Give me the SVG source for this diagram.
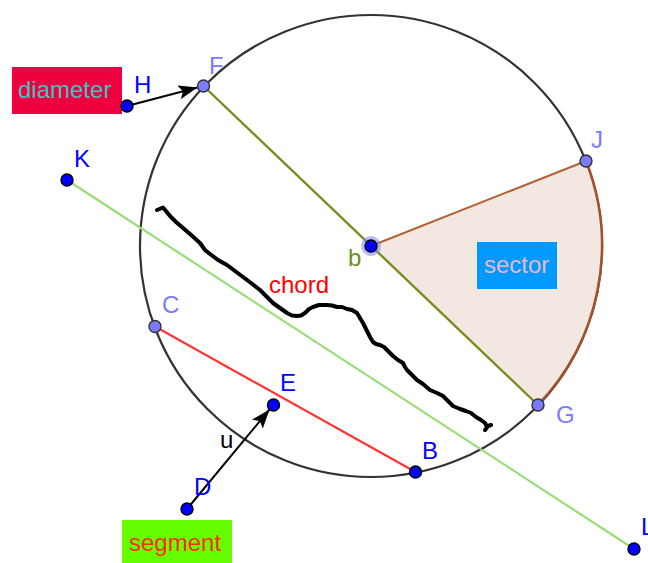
<svg xmlns="http://www.w3.org/2000/svg" width="648" height="563" viewBox="0 0 648 563">
<style>
text{font-family:"Liberation Sans",Arial,sans-serif;font-size:24px}
.lbl{fill:#0000ff}
.lbl2{fill:#7b7bff}
.pt{fill:#0000ff;stroke:#000;stroke-width:1.4}
.pt2{fill:#7b7bff;stroke:#333;stroke-width:1.4}
.vec{stroke:#000;stroke-width:2;fill:none;marker-end:url(#arr)}
</style>
<defs>
<marker id="arr" markerUnits="userSpaceOnUse" markerWidth="20" markerHeight="14" refX="19" refY="7" orient="auto">
<path d="M0,0 L19,7 L0,14 L4,7 Z" fill="#000"/>
</marker>
</defs>
<rect width="648" height="563" fill="#fff"/>
<g id="circle"><circle cx="371" cy="246" r="231" fill="none" stroke="#333" stroke-width="2.2"/></g>
<g id="sector-shape"><path d="M371,246 L586,161 A231,231 0 0,1 538,405 Z" fill="#f3e7e2" stroke="none"/>
<path d="M371,246 L586,161" stroke="#b45f30" stroke-width="2" fill="none"/>
<path d="M586,161 A231,231 0 0,1 538,405" stroke="#a0522d" stroke-width="2.6" fill="none"/></g>
<g id="connectors">
<line x1="203.5" y1="86" x2="538" y2="405" stroke="#7a8c1e" stroke-width="2.4"/>
<line x1="67" y1="180" x2="634" y2="549" stroke="#99dd77" stroke-width="2.2"/>
<line x1="155" y1="326.5" x2="415.5" y2="472" stroke="#ff3333" stroke-width="2.2"/>
<line class="vec" x1="127" y1="106" x2="197.5" y2="87.5"/>
<line class="vec" x1="187" y1="509" x2="269.5" y2="409.5"/>
</g>
<g id="freehand"><polyline points="157,210 163,207.5 166,211 170,216 176,222 183,228 190,234 200,243 205,250 210,254 218,260 227,265 235,271 243,277 251,283 260,290 267,297 273,303 280,308 287,313 292,315.5 297,316 301,315.5 305,313 309,309 313,307 319,305 327,305 332,305.5 337,307 342,307 347,309 352,310 357,313 360,318 363,323 366,329 370,337 373,342 376,344 380,345 384,347 388,351 393,356 398,360 403,363 405,367 407,370 412,375 417,380 423,384 430,390 437,393 443,396 448,401 453,406 460,409 466,411 471,413 476,417 481,420 485,423 487,427 485,430 488,426 491,425" fill="none" stroke="#000" stroke-width="4" stroke-linejoin="round" stroke-linecap="round"/></g>
<g id="diameter"><rect x="12" y="67" width="110" height="47" fill="#ee0040"/><text x="18" y="98" fill="#44c0c0">diameter</text></g>
<g id="sector"><rect x="477" y="242" width="80" height="47" fill="#0099ff"/><text x="484" y="273" fill="#e8b8c8">sector</text></g>
<g id="segment"><rect x="122" y="520" width="110" height="47" fill="#66ff00"/><text x="129" y="551" fill="#ff2a00">segment</text></g>
<g id="chord"><text x="269" y="293" fill="#ff0000">chord</text></g>
<g id="pointH"><circle class="pt" cx="127" cy="106" r="6"/><text class="lbl" x="134" y="93">H</text></g>
<g id="pointF"><circle class="pt2" cx="203.5" cy="86" r="6"/><text class="lbl2" x="209" y="74">F</text></g>
<g id="pointK"><circle class="pt" cx="67" cy="180" r="6"/><text class="lbl" x="74" y="167">K</text></g>
<g id="pointL"><circle class="pt" cx="634" cy="549" r="6"/><text class="lbl" x="641" y="535">L</text></g>
<g id="pointJ"><circle class="pt2" cx="586" cy="161" r="6"/><text class="lbl2" x="591" y="148">J</text></g>
<g id="pointG"><circle class="pt2" cx="538" cy="405" r="6"/><text class="lbl2" x="556" y="423">G</text></g>
<g id="pointB"><circle class="pt" cx="415.5" cy="472" r="6"/><text class="lbl" x="422" y="459">B</text></g>
<g id="pointC"><circle class="pt2" cx="155" cy="326.5" r="6"/><text class="lbl2" x="162" y="313">C</text></g>
<g id="pointE"><circle class="pt" cx="273.5" cy="405" r="6"/><text class="lbl" x="280" y="391">E</text></g>
<g id="pointD"><circle class="pt" cx="187" cy="509" r="6"/><text class="lbl" x="194" y="495">D</text></g>
<g id="pointb"><circle cx="371" cy="246" r="10" fill="#7f7fff" opacity="0.55"/><circle class="pt" cx="371" cy="246" r="6"/><text x="348" y="266" fill="#6b8e1f">b</text></g>
<g id="labelu"><text x="220" y="448" fill="#000">u</text></g>
</svg>
